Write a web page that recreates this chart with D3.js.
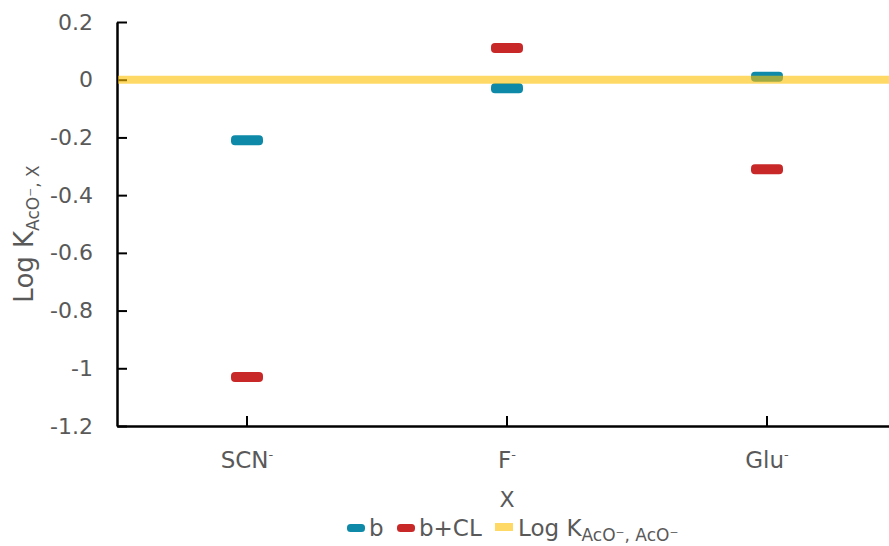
<!DOCTYPE html>
<html>
<head>
<meta charset="utf-8">
<script src="https://cdn.jsdelivr.net/npm/d3@7"></script>
<style>
  html, body { margin: 0; padding: 0; background: #fff; }
  svg { display: block; font-family: "DejaVu Sans", Verdana, sans-serif; }
</style>
</head>
<body>
<svg id="chart" width="889" height="546"></svg>
<script>
// ---- data ----
const categories = ["SCN", "F", "Glu"];
const seriesNames = ["b", "b+CL"];
const bValues = [-0.21, -0.03, 0.01];
const bclValues = [-1.03, 0.11, -0.31];
const refValue = 0;              // Log K AcO-, AcO-
const yTicks = [0.2, 0, -0.2, -0.4, -0.6, -0.8, -1, -1.2];

const colors = { b: "#0E8AA8", bcl: "#C82828", ref: "#FFC000" };
const textColor = "#595959";
const fs = 22;

const svg = d3.select("#chart");
const plotLeft = 117, plotRight = 897, plotTop = 22, plotBottom = 426;

const x = d3.scaleBand().domain(categories).range([plotLeft, plotRight]).padding(0);
const y = d3.scaleLinear().domain([-1.2, 0.2]).range([plotBottom, plotTop]);

// y axis
const yAxis = d3.axisLeft(y).tickValues(yTicks)
  .tickFormat(d => d === 0 ? "0" : String(+d.toFixed(1)))
  .tickSizeInner(-10).tickSizeOuter(0).tickPadding(24);
const gy = svg.append("g").attr("transform", `translate(${plotLeft},0)`).call(yAxis);
gy.select(".domain").attr("stroke", "#000").attr("stroke-width", 2.5);
gy.selectAll(".tick line").attr("stroke", "#000").attr("stroke-width", 2);
gy.selectAll(".tick text").attr("fill", textColor).style("font-size", fs + "px")
  .style("font-family", "'DejaVu Sans', Verdana, sans-serif");

// x axis
const xAxis = d3.axisBottom(x).tickFormat("").tickSizeInner(-10).tickSizeOuter(0);
const gx = svg.append("g").attr("transform", `translate(0,${plotBottom})`).call(xAxis);
gx.select(".domain").attr("stroke", "#000").attr("stroke-width", 2.5);
gx.selectAll(".tick line").attr("stroke", "#000").attr("stroke-width", 2);

// x labels with superscript minus
const xl = svg.append("g").selectAll("text").data(categories).join("text")
  .attr("x", d => x(d) + x.bandwidth() / 2)
  .attr("y", 468)
  .attr("text-anchor", "middle")
  .attr("fill", textColor)
  .style("font-size", "23px");
xl.append("tspan").text(d => d);
xl.append("tspan").attr("dy", -9).style("font-size", "13px").text("-");

// x title
svg.append("text").attr("x", 507).attr("y", 507).attr("text-anchor", "middle")
  .attr("fill", textColor).style("font-size", fs + "px").text("X");

// y title
const yt = svg.append("text")
  .attr("transform", "translate(33,234) rotate(-90)")
  .attr("text-anchor", "middle").attr("fill", textColor).style("font-size", "26px");
yt.append("tspan").text("Log K");
yt.append("tspan").attr("dy", 6).style("font-size", "17px").text("AcO\u207B, X");

// series markers
const mw = 32, mh = 10;
function markers(vals, color) {
  svg.append("g").selectAll("rect").data(categories).join("rect")
    .attr("x", (d) => x(d) + x.bandwidth() / 2 - mw / 2)
    .attr("y", (d, i) => y(vals[i]) - mh / 2)
    .attr("width", mw).attr("height", mh)
    .attr("rx", 4).attr("ry", 4)
    .attr("fill", color);
}
markers(bValues, colors.b);
markers(bclValues, colors.bcl);

// reference line (semi-transparent on top)
svg.append("line")
  .attr("x1", plotLeft + 1).attr("x2", plotRight)
  .attr("y1", y(refValue)).attr("y2", y(refValue))
  .attr("stroke", colors.ref).attr("stroke-width", 8).attr("stroke-opacity", 0.6);

// legend
const lg = svg.append("g");
const ly = 536;
const lfs = "23px";
lg.append("rect").attr("x", 347).attr("y", 524).attr("width", 18).attr("height", 8).attr("rx", 3.5).attr("fill", colors.b);
lg.append("text").attr("x", 369).attr("y", ly).attr("fill", textColor).style("font-size", lfs).text(seriesNames[0]);
lg.append("rect").attr("x", 397).attr("y", 524).attr("width", 18).attr("height", 8).attr("rx", 3.5).attr("fill", colors.bcl);
lg.append("text").attr("x", 419).attr("y", ly).attr("fill", textColor).style("font-size", lfs).text(seriesNames[1]);
lg.append("rect").attr("x", 495).attr("y", 523).attr("width", 18).attr("height", 8).attr("fill", colors.ref).attr("fill-opacity", 0.6);
const lt = lg.append("text").attr("x", 518).attr("y", ly).attr("fill", textColor).style("font-size", lfs);
lt.append("tspan").text("Log K");
lt.append("tspan").attr("dy", 5).style("font-size", "17px").text("AcO\u207B, AcO\u207B");
</script>
</body>
</html>
